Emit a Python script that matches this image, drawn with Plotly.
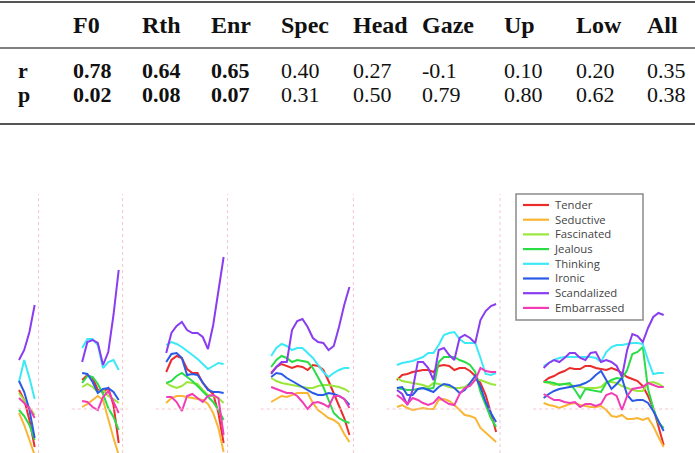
import plotly.graph_objects as go

# ---------------- table data ----------------
row_labels = ["r", "p"]
headers = ["F0", "Rth", "Enr", "Spec", "Head", "Gaze", "Up", "Low", "All"]
r_values = ["0.78", "0.64", "0.65", "0.40", "0.27", "-0.1", "0.10", "0.20", "0.35"]
p_values = ["0.02", "0.08", "0.07", "0.31", "0.50", "0.79", "0.80", "0.62", "0.38"]
bold_cols = [True, True, True, False, False, False, False, False, False]

# ---------------- line data (6 segments per emotion) ----------------
emotions = ["Tender", "Seductive", "Fascinated", "Jealous", "Thinking",
            "Ironic", "Scandalized", "Embarrassed"]
colors = ["#ec2b2b", "#f9b634", "#9be63a", "#2bdc47", "#3ce9f6",
          "#2a5be6", "#8a3cf0", "#f23cb6"]

tender = [
    [0.19, 0.09, -0.11, -0.38],
    [0.29, 0.34, 0.31, 0.19, 0.17, 0.21, 0.04, -0.34],
    [0.37, 0.49, 0.53, 0.51, 0.40, 0.36, 0.36, 0.26, 0.20, 0.15, -0.04, -0.34],
    [0.36, 0.42, 0.45, 0.43, 0.41, 0.43, 0.42, 0.39, 0.44, 0.43, 0.39, 0.28, 0.15, 0.04, -0.09, -0.26],
    [0.29, 0.34, 0.35, 0.37, 0.38, 0.39, 0.39, 0.37, 0.43, 0.44, 0.43, 0.39, 0.41, 0.41, 0.38, 0.33, 0.26, 0.14, -0.04, -0.23],
    [0.27, 0.31, 0.33, 0.36, 0.38, 0.41, 0.40, 0.40, 0.43, 0.43, 0.41, 0.40, 0.39, 0.41, 0.39, 0.36, 0.32, 0.30, 0.28, 0.23, 0.13, 0.01, -0.18, -0.36],
]
seductive = [
    [-0.04, -0.16, -0.31, -0.46],
    [0.02, 0.05, 0.09, 0.13, 0.09, -0.11, -0.29, -0.46],
    [0.06, 0.11, 0.13, 0.13, 0.12, 0.11, 0.10, 0.09, 0.05, -0.04, -0.19, -0.43],
    [0.07, 0.10, 0.13, 0.12, 0.14, 0.16, 0.16, 0.16, 0.06, -0.01, -0.05, -0.09, -0.11, -0.15, -0.25, -0.33],
    [0.02, 0.04, 0.01, -0.01, 0.00, 0.01, 0.00, 0.00, 0.09, 0.10, 0.08, 0.04, -0.01, -0.06, -0.07, -0.09, -0.19, -0.24, -0.29, -0.33],
    [0.06, 0.04, 0.03, 0.01, 0.03, 0.05, 0.06, 0.04, 0.03, 0.02, 0.02, 0.03, -0.01, -0.07, -0.08, -0.06, -0.10, -0.10, -0.09, -0.11, -0.09, -0.17, -0.28, -0.38],
]
fascinated = [
    [0.16, 0.09, 0.01, -0.06],
    [0.22, 0.25, 0.22, 0.17, 0.19, 0.13, 0.10, 0.06],
    [0.26, 0.23, 0.21, 0.23, 0.27, 0.26, 0.25, 0.19, 0.14, 0.13, 0.11, 0.06],
    [0.31, 0.28, 0.26, 0.25, 0.24, 0.23, 0.22, 0.21, 0.21, 0.23, 0.24, 0.24, 0.23, 0.22, 0.20, 0.17],
    [0.31, 0.28, 0.27, 0.26, 0.25, 0.24, 0.22, 0.26, 0.25, 0.24, 0.22, 0.21, 0.21, 0.22, 0.26, 0.29, 0.29, 0.27, 0.25, 0.24],
    [0.27, 0.26, 0.24, 0.25, 0.25, 0.24, 0.23, 0.22, 0.21, 0.21, 0.21, 0.22, 0.27, 0.27, 0.26, 0.23, 0.21, 0.19, 0.18, 0.18, 0.26, 0.27, 0.25, 0.22],
]
jealous = [
    [-0.01, -0.07, -0.16, -0.31],
    [0.26, 0.33, 0.32, 0.25, 0.15, 0.01, -0.08, -0.21],
    [0.26, 0.28, 0.33, 0.36, 0.32, 0.28, 0.23, 0.18, 0.13, 0.07, -0.01, -0.11],
    [0.42, 0.49, 0.53, 0.51, 0.47, 0.49, 0.48, 0.47, 0.41, 0.32, 0.22, 0.09, -0.04, -0.09, -0.12, -0.14],
    [0.21, 0.20, 0.19, 0.19, 0.20, 0.21, 0.20, 0.21, 0.47, 0.52, 0.52, 0.52, 0.49, 0.47, 0.44, 0.37, 0.17, 0.04, -0.09, -0.18],
    [0.27, 0.27, 0.26, 0.24, 0.25, 0.26, 0.19, 0.11, 0.20, 0.19, 0.18, 0.17, 0.26, 0.29, 0.31, 0.30, 0.39, 0.55, 0.57, 0.62, 0.20, 0.01, -0.14, -0.19],
]
thinking = [
    [0.27, 0.49, 0.31, 0.10],
    [0.61, 0.70, 0.70, 0.64, 0.41, 0.47, 0.49, 0.39],
    [0.64, 0.67, 0.65, 0.62, 0.58, 0.54, 0.50, 0.45, 0.40, 0.43, 0.46, 0.45],
    [0.53, 0.61, 0.65, 0.63, 0.59, 0.61, 0.61, 0.56, 0.51, 0.44, 0.37, 0.32, 0.36, 0.39, 0.41, 0.41],
    [0.44, 0.46, 0.47, 0.48, 0.50, 0.52, 0.56, 0.56, 0.64, 0.74, 0.76, 0.77, 0.70, 0.66, 0.66, 0.66, 0.51, 0.35, 0.34, 0.36],
    [0.43, 0.46, 0.49, 0.51, 0.52, 0.52, 0.52, 0.52, 0.52, 0.52, 0.51, 0.47, 0.57, 0.62, 0.64, 0.64, 0.65, 0.66, 0.66, 0.65, 0.49, 0.35, 0.36, 0.36],
]
ironic = [
    [0.28, 0.17, -0.01, -0.29],
    [0.36, 0.35, 0.27, 0.16, 0.20, 0.21, 0.17, 0.09],
    [0.47, 0.55, 0.56, 0.51, 0.34, 0.35, 0.34, 0.27, 0.19, 0.17, 0.17, 0.16],
    [0.32, 0.36, 0.35, 0.31, 0.28, 0.25, 0.22, 0.19, 0.16, 0.14, 0.14, 0.16, 0.15, 0.13, 0.10, 0.04],
    [0.21, 0.22, 0.14, 0.14, 0.20, 0.21, 0.19, 0.17, 0.22, 0.25, 0.24, 0.21, 0.16, 0.19, 0.26, 0.33, 0.22, 0.07, -0.04, -0.13],
    [0.11, 0.15, 0.18, 0.20, 0.21, 0.22, 0.23, 0.24, 0.26, 0.29, 0.34, 0.38, 0.29, 0.20, 0.25, 0.31, 0.14, 0.08, 0.09, 0.09, 0.06, -0.02, -0.12, -0.22],
]
scandalized = [
    [0.49, 0.59, 0.77, 1.04],
    [0.47, 0.67, 0.69, 0.66, 0.44, 0.57, 0.94, 1.39],
    [0.56, 0.76, 0.83, 0.87, 0.79, 0.76, 0.76, 0.72, 0.60, 0.84, 1.18, 1.52],
    [0.35, 0.42, 0.47, 0.47, 0.79, 0.88, 0.90, 0.82, 0.71, 0.67, 0.66, 0.59, 0.63, 0.82, 1.04, 1.22],
    [0.19, 0.15, 0.04, 0.19, 0.47, 0.47, 0.41, 0.29, 0.59, 0.61, 0.54, 0.49, 0.71, 0.74, 0.71, 0.66, 0.89, 0.98, 1.03, 1.05],
    [0.41, 0.46, 0.49, 0.47, 0.51, 0.56, 0.56, 0.51, 0.49, 0.56, 0.57, 0.47, 0.49, 0.47, 0.43, 0.32, 0.59, 0.75, 0.73, 0.67, 0.81, 0.92, 0.96, 0.94],
]
embarrassed = [
    [0.11, 0.06, 0.01, -0.09],
    [0.08, 0.07, 0.02, -0.01, 0.12, 0.18, 0.07, -0.04],
    [0.12, 0.12, 0.07, -0.02, 0.13, 0.15, 0.11, 0.07, 0.13, 0.14, 0.11, -0.26],
    [0.22, 0.20, 0.18, 0.16, 0.16, 0.13, 0.07, 0.00, 0.06, 0.07, 0.05, 0.02, 0.13, 0.13, 0.10, 0.01],
    [0.14, 0.10, 0.05, 0.11, 0.09, 0.06, 0.04, 0.06, 0.12, 0.08, 0.05, 0.04, 0.15, 0.21, 0.23, 0.29, 0.41, 0.38, 0.37, 0.37],
    [0.15, 0.12, 0.09, 0.09, 0.07, 0.06, 0.07, 0.02, 0.05, 0.05, 0.03, 0.05, 0.14, 0.16, 0.13, -0.01, 0.13, 0.20, 0.21, 0.22, 0.26, 0.24, 0.22, 0.22],
]
series = [tender, seductive, fascinated, jealous, thinking, ironic, scandalized, embarrassed]

# ---------------- layout constants ----------------
W, H = 695, 453
GAP = 9.1                       # frames between segments
seg_len = [len(s) for s in tender]
starts = []
pos = 0.0
for n in seg_len:
    starts.append(pos)
    pos += (n - 1) + GAP
ends = [s + n - 1 for s, n in zip(starts, seg_len)]

X_RANGE = [-3.64, 129.5]
Y_RANGE = [-0.44, 2.15]
PLOT_TOP_PX = 194
dom_top = 1 - PLOT_TOP_PX / H


def px(x):
    return x / W


def py(y):
    return 1 - y / H


fig = go.Figure()

for name, col, segs in zip(emotions, colors, series):
    xs, ys = [], []
    for s, seg in zip(starts, segs):
        xs += [s + i for i in range(len(seg))] + [None]
        ys += list(seg) + [None]
    fig.add_trace(go.Scatter(x=xs, y=ys, mode="lines", name=name,
                             line=dict(color=col, width=2),
                             showlegend=False, hoverinfo="skip"))

shapes = []
pink = "#f6c3cc"
# segment baselines and separators
for k, (s, e) in enumerate(zip(starts, ends)):
    x0 = max(s - 2.0, -0.2)
    shapes.append(dict(type="line", xref="x", yref="y", x0=x0, x1=e + 1.7, y0=0, y1=0,
                       line=dict(color=pink, width=1, dash="dot")))
    if k < len(starts) - 1:
        shapes.append(dict(type="line", xref="x", yref="y", x0=e + 0.75, x1=e + 0.75,
                           y0=Y_RANGE[0], y1=Y_RANGE[1],
                           line=dict(color=pink, width=1, dash="dot")))

# table rules
for yr, w in [(2, 2.2), (48, 1.6), (124, 2.2)]:
    shapes.append(dict(type="line", xref="paper", yref="paper", x0=0, x1=1,
                       y0=py(yr), y1=py(yr), line=dict(color="#555555", width=w)))

annotations = []
col_x = [73, 142, 211, 281, 353, 422, 504, 576, 647]
HFONT = dict(family="Liberation Serif", size=24, color="#111111")
BFONT = dict(family="Liberation Serif", size=22, color="#111111")
HEAD_Y, R_Y, P_Y = 25, 70.5, 95
for cx, h in zip(col_x, headers):
    annotations.append(dict(xref="paper", yref="paper", x=px(cx - 2), y=py(HEAD_Y),
                            text=f"<b>{h}</b>", showarrow=False, xanchor="left",
                            yanchor="middle", font=HFONT))

for lab, yv, vals in [(row_labels[0], R_Y, r_values), (row_labels[1], P_Y, p_values)]:
    common = dict(xref="paper", yref="paper", y=py(yv), showarrow=False,
                  xanchor="left", yanchor="middle", font=BFONT)
    annotations.append(dict(x=px(16), text=f"<b>{lab}</b>", **common))
    for cx, v, b in zip(col_x, vals, bold_cols):
        annotations.append(dict(x=px(cx - 2), text=f"<b>{v}</b>" if b else v, **common))

# manual legend (box, line samples, one multi-line label block)
LX0, LX1, LY0, LY1 = 516, 643, 194, 320
LEG_FS = 11.3
LEG_STEP = 14.7
shapes.append(dict(type="rect", xref="paper", yref="paper", x0=px(LX0), x1=px(LX1),
                   y0=py(LY1), y1=py(LY0), line=dict(color="#8a8a8a", width=1.5),
                   fillcolor="white"))
for i, col in enumerate(colors):
    yc = 205 + LEG_STEP * i
    shapes.append(dict(type="line", xref="paper", yref="paper", x0=px(523), x1=px(549),
                       y0=py(yc), y1=py(yc), line=dict(color=col, width=2.2)))
leg_center = 205 + LEG_STEP * (len(emotions) - 1) / 2
annotations.append(dict(xref="paper", yref="paper", x=px(554), y=py(leg_center),
                        text="<br>".join(emotions), showarrow=False, xanchor="left",
                        yanchor="middle", align="left", borderpad=0, borderwidth=0,
                        font=dict(family="Open Sans", size=LEG_FS, color="#444444")))

fig.update_layout(
    width=W, height=H, autosize=False,
    margin=dict(l=0, r=0, t=0, b=0, pad=0),
    paper_bgcolor="white", plot_bgcolor="white",
    xaxis=dict(range=X_RANGE, visible=False, showgrid=False, zeroline=False),
    yaxis=dict(range=Y_RANGE, domain=[0, dom_top], visible=False,
               showgrid=False, zeroline=False),
    shapes=shapes, annotations=annotations, showlegend=False,
)

fig.write_html("out.html")
